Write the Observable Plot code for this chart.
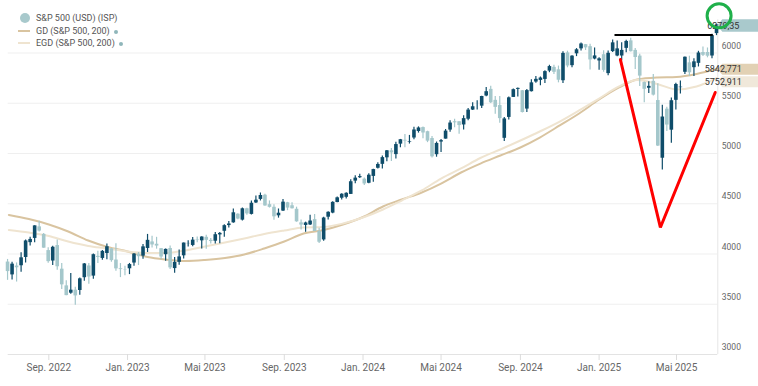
<!DOCTYPE html>
<html><head><meta charset="utf-8">
<script src="https://cdn.jsdelivr.net/npm/d3@7"></script>
<script src="https://cdn.jsdelivr.net/npm/@observablehq/plot@0.6"></script>
<style>
body{margin:0;background:#fff;font-family:Roboto,sans-serif;}
#wrap{position:relative;width:758px;height:386px;overflow:hidden;}
#legend{position:absolute;left:0;top:0;width:200px;height:50px;font-size:9px;color:#555;}
#legend .it{position:absolute;left:36px;height:12px;line-height:12px;white-space:nowrap;}
#legend .sw{position:absolute;}
#legend .dot{display:inline-block;width:4px;height:4px;border-radius:50%;background:#8fb6ba;margin-left:4px;vertical-align:middle;}
</style></head><body>
<div id="wrap"><div id="chart"></div>
<div id="legend">
  <div class="sw" style="left:20px;top:13px;width:10px;height:10px;border-radius:50%;background:#a8c9cc"></div>
  <div class="it" style="top:12px">S&amp;P 500 (USD) (ISP)</div>
  <div class="sw" style="left:18px;top:30px;width:12px;height:2px;background:#d9c4a0"></div>
  <div class="it" style="top:25px">GD (S&amp;P 500, 200)<span class="dot"></span></div>
  <div class="sw" style="left:18px;top:42px;width:12px;height:2px;background:#efe4d0"></div>
  <div class="it" style="top:37px">EGD (S&amp;P 500, 200)<span class="dot"></span></div>
</div></div>
<script>
// ---- weekly S&P 500 candles (week start, open, high, low, close) ----
const weekStart = ["2022-06-27","2022-07-04","2022-07-11","2022-07-18","2022-07-25","2022-08-01","2022-08-08","2022-08-15","2022-08-22","2022-08-29","2022-09-05","2022-09-12","2022-09-19","2022-09-26","2022-10-03","2022-10-10","2022-10-17","2022-10-24","2022-10-31","2022-11-07","2022-11-14","2022-11-21","2022-11-28","2022-12-05","2022-12-12","2022-12-19","2022-12-26",
"2023-01-02","2023-01-09","2023-01-16","2023-01-23","2023-01-30","2023-02-06","2023-02-13","2023-02-20","2023-02-27","2023-03-06","2023-03-13","2023-03-20","2023-03-27","2023-04-03","2023-04-10","2023-04-17","2023-04-24","2023-05-01","2023-05-08","2023-05-15","2023-05-22","2023-05-29","2023-06-05","2023-06-12","2023-06-19","2023-06-26","2023-07-03","2023-07-10","2023-07-17","2023-07-24","2023-07-31","2023-08-07","2023-08-14","2023-08-21","2023-08-28","2023-09-04","2023-09-11","2023-09-18","2023-09-25","2023-10-02","2023-10-09","2023-10-16","2023-10-23","2023-10-30","2023-11-06","2023-11-13","2023-11-20","2023-11-27","2023-12-04","2023-12-11","2023-12-18","2023-12-25",
"2024-01-01","2024-01-08","2024-01-15","2024-01-22","2024-01-29","2024-02-05","2024-02-12","2024-02-19","2024-02-26","2024-03-04","2024-03-11","2024-03-18","2024-03-25","2024-04-01","2024-04-08","2024-04-15","2024-04-22","2024-04-29","2024-05-06","2024-05-13","2024-05-20","2024-05-27","2024-06-03","2024-06-10","2024-06-17","2024-06-24","2024-07-01","2024-07-08","2024-07-15","2024-07-22","2024-07-29","2024-08-05","2024-08-12","2024-08-19","2024-08-26","2024-09-02","2024-09-09","2024-09-16","2024-09-23","2024-09-30","2024-10-07","2024-10-14","2024-10-21","2024-10-28","2024-11-04","2024-11-11","2024-11-18","2024-11-25","2024-12-02","2024-12-09","2024-12-16","2024-12-23","2024-12-30",
"2025-01-06","2025-01-13","2025-01-20","2025-01-27","2025-02-03","2025-02-10","2025-02-17","2025-02-24","2025-03-03","2025-03-10","2025-03-17","2025-03-24","2025-03-31","2025-04-07","2025-04-14","2025-04-21","2025-04-28","2025-05-05","2025-05-12","2025-05-19","2025-05-26","2025-06-02","2025-06-09","2025-06-16","2025-06-23","2025-06-30"];
const open = [3920,3792,3880,3883,3965,4113,4155,4270,4195,4034,3930,4084,3849,3683,3610,3640,3637,3764,3881,3780,3977,3956,4005,4052,3940,3853,3843,
3853,3910,3999,3979,4055,4120,4097,4053,3993,4055,3855,3917,3982,4103,4085,4139,4131,4166,4136,4127,4190,4226,4283,4310,4396,4337,4450,4394,4508,4543,4585,4491,4465,4380,4427,4510,4480,4445,4310,4284,4289,4342,4225,4140,4366,4407,4512,4555,4564,4593,4725,4759,
4745,4704,4772,4853,4892,4957,5027,4989,5093,5131,5111,5154,5219,5258,5217,5149,4988,5114,5143,5233,5316,5316,5284,5341,5432,5460,5471,5572,5638,5529,5477,5151,5359,5558,5638,5624,5442,5615,5711,5727,5737,5820,5857,5833,5724,6001,5874,5992,6041,6083,6063,5940,5921,
5983,5795,6014,5970,5970,6046,6121,6026,5969,5706,5649,5718,5527,4953,5441,5232,5529,5655,5808,5902,5854,5897,6005,6005,5970,6193];
const high = [3946,3918,3911,4012,4140,4167,4281,4325,4203,4062,4077,4140,3906,3733,3807,3669,3762,3905,3905,4001,4028,4034,4100,4052,4101,3905,3878,
3906,4004,4015,4095,4195,4176,4166,4054,4049,4079,3964,4040,4110,4133,4164,4170,4171,4187,4154,4213,4213,4291,4323,4448,4401,4458,4456,4528,4578,4607,4595,4528,4490,4448,4542,4514,4511,4466,4338,4317,4386,4393,4256,4366,4420,4520,4568,4599,4609,4738,4779,4793,
4755,4799,4843,4907,4976,5031,5049,5111,5140,5190,5180,5262,5265,5264,5222,5168,5114,5139,5239,5325,5342,5316,5375,5447,5506,5524,5570,5656,5670,5566,5566,5358,5563,5643,5652,5626,5636,5733,5767,5760,5823,5878,5878,5870,6012,6018,5972,6044,6099,6085,6086,6050,5953,
6022,6020,6129,6120,6101,6127,6147,6044,5987,5712,5715,5786,5695,5481,5459,5552,5700,5721,5959,5968,5943,6017,6060,6050,6187,6284];
const low = [3738,3742,3721,3819,3911,4079,4112,4218,4057,3907,3886,3838,3648,3584,3600,3491,3590,3730,3699,3750,3906,3938,3942,3918,3828,3765,3783,
3795,3877,3885,3949,4015,4060,4048,3944,3928,3847,3808,3888,3951,4069,4072,4113,4049,4048,4099,4099,4103,4166,4258,4305,4341,4328,4385,4387,4503,4528,4474,4457,4335,4357,4423,4431,4448,4316,4239,4216,4284,4223,4104,4128,4339,4401,4511,4537,4547,4591,4699,4752,
4682,4699,4714,4845,4846,4918,4920,4946,5057,5057,5094,5138,5203,5146,5108,4954,4963,5011,5143,5211,5257,5191,5234,5327,5428,5433,5447,5565,5497,5391,5302,5120,5334,5556,5561,5402,5407,5613,5699,5674,5696,5804,5786,5703,5696,5853,5853,5964,6020,6025,5832,5932,5829,
5809,5773,6004,5962,5923,6003,6009,5837,5667,5505,5597,5572,5069,4835,5220,5101,5434,5593,5786,5768,5767,5861,5964,5952,5944,6173];
const close = [3825,3899,3863,3962,4130,4145,4280,4228,4058,3924,4067,3873,3693,3586,3640,3583,3753,3901,3771,3993,3965,4026,4072,3934,3852,3845,3840,
3895,3999,3973,4071,4136,4090,4079,3970,4046,3862,3917,3971,4109,4105,4138,4134,4169,4136,4124,4192,4205,4282,4299,4410,4348,4450,4399,4505,4536,4582,4478,4464,4370,4406,4516,4457,4450,4320,4288,4309,4328,4224,4117,4358,4415,4514,4559,4595,4604,4719,4755,4770,
4697,4784,4840,4891,4959,5027,5006,5089,5137,5124,5117,5234,5254,5204,5123,4967,5100,5128,5223,5303,5305,5278,5347,5432,5465,5460,5567,5615,5505,5459,5347,5344,5554,5635,5648,5408,5626,5703,5738,5751,5815,5865,5808,5729,5996,5871,5969,6032,6090,6051,5931,5971,5942,
5827,5997,6101,6041,6026,6115,6013,5955,5770,5639,5668,5581,5074,5363,5283,5525,5687,5660,5958,5803,5912,6000,5977,5968,6173,6279.35];

// ---- moving averages ----
const maDates = ["2022-07-01","2022-08-01","2022-09-01","2022-10-01","2022-11-01","2022-12-01","2023-01-01","2023-02-01","2023-03-01","2023-04-01","2023-05-01","2023-06-01","2023-07-01","2023-08-01","2023-09-01","2023-10-01","2023-11-01","2023-12-01","2024-01-01","2024-02-01","2024-03-01","2024-04-01","2024-05-01","2024-06-01","2024-07-01","2024-08-01","2024-09-01","2024-10-01","2024-11-01","2024-12-01","2025-01-01","2025-02-01","2025-03-01","2025-04-01","2025-05-01","2025-06-01","2025-07-03"];
const gdValues = [4388,4348,4294,4224,4134,4070,4025,3970,3945,3930,3940,3960,3995,4055,4124,4204,4239,4294,4368,4473,4542,4612,4701,4811,4900,4980,5060,5159,5279,5398,5537,5657,5736,5756,5761,5791,5842.771];
const egdValues = [4239,4214,4179,4124,4080,4055,4025,4010,4010,4035,4075,4114,4154,4199,4234,4264,4269,4303,4363,4443,4532,4632,4751,4851,4955,5040,5129,5219,5318,5428,5547,5667,5731,5692,5637,5667,5752.911];

// ---- axes ----
const tickDates = ["2022-09-01","2023-01-01","2023-05-01","2023-09-01","2024-01-01","2024-05-01","2024-09-01","2025-01-01","2025-05-01"];
const tickLabels = ["Sep. 2022","Jan. 2023","Mai 2023","Sep. 2023","Jan. 2024","Mai 2024","Sep. 2024","Jan. 2025","Mai 2025"];
const yTicks = [3000,3500,4000,4500,5000,5500,6000];

// ---- price tags ----
const tagValues = [6279.35, 5842.771, 5752.911];
const tagTexts = ["6279,35","5842,771","5752,911"];

// ---- hand-drawn annotations ----
const vDates = ["2025-02-03","2025-04-06","2025-06-30"];
const vValues = [5935, 4264, 5607];
const hDates = ["2025-01-26","2025-06-25"];
const hValues = [6179, 6179];
const circleDate = "2025-07-06";
const circleValue = 6370;

const parse = d3.utcParse("%Y-%m-%d");
const UP = "#0f4d6a", DOWN = "#a4c7cb";
const candles = weekStart.map((d,i)=>({date:d3.utcDay.offset(parse(d),2),open:open[i],high:high[i],low:low[i],close:close[i],col:close[i]>=open[i]?UP:DOWN}));
const gd = maDates.map((d,i)=>({date:parse(d),value:gdValues[i]}));
const egd = maDates.map((d,i)=>({date:parse(d),value:egdValues[i]}));
const labelMap = new Map(tickDates.map((d,i)=>[+parse(d),tickLabels[i]]));
const vData = vDates.map((d,i)=>({date:parse(d),value:vValues[i]}));
const hData = hDates.map((d,i)=>({date:parse(d),value:hValues[i]}));
const tagFills = ["#a9c9cc","#e2d1b4","#f0e8da"];
const xStart = parse("2022-06-30"), xEnd = parse("2025-07-04");

function priceTags(index, scales, values, dim) {
  const g = d3.create("svg:g").attr("font-family","Roboto, sans-serif").attr("font-size",9);
  const x0 = dim.width - dim.marginRight;
  let prevBottom = -Infinity;
  tagValues.forEach((v,i)=>{
    const h = i===0 ? 12.5 : 11;
    let cy = scales.y(v) + 1;
    cy = Math.max(cy, prevBottom + h/2 + 1.5);
    prevBottom = cy + h/2;
    g.append("path")
      .attr("d",`M${x0},${cy}L${x0+5},${cy-h/2}L${dim.width},${cy-h/2}L${dim.width},${cy+h/2}L${x0+5},${cy+h/2}Z`)
      .attr("fill",tagFills[i]);
    g.append("text").attr("x",x0+6).attr("y",cy).attr("dy","0.35em").attr("fill","#333").text(tagTexts[i]);
  });
  return g.node();
}

const chart = Plot.plot({
  width:758, height:386,
  marginLeft:7.7, marginRight:40.7, marginTop:0, marginBottom:32,
  x:{type:"utc", domain:[xStart,xEnd], range:[7.7,717.3]},
  y:{domain:[3000,6000], range:[354,52.5]},
  color:{type:"identity"},
  style:{fontFamily:"Roboto, sans-serif", background:"white"},
  marks:[
    Plot.ruleY(yTicks.filter(d=>d>3000), {stroke:"#efefef"}),
    Plot.ruleY([3000], {stroke:"#e3e3e3"}),
    Plot.ruleX([xEnd], {y1:3000, y2:6330, stroke:"#e6e6e6"}),
    Plot.axisX({ticks:tickDates.map(parse), tickFormat:d=>labelMap.get(+d), tickSize:6, tickPadding:3, stroke:"#dcdcdc", fill:"#666", fontSize:10}),
    Plot.axisY({anchor:"right", ticks:yTicks, tickSize:0, tickPadding:4, dy:-7, fontSize:8.5, fill:"#666", tickFormat:d=>String(d)}),
    Plot.line(gd, {x:"date", y:"value", stroke:"#d9c4a0", strokeWidth:2, curve:"monotone-x"}),
    Plot.line(egd, {x:"date", y:"value", stroke:"#efe4d0", strokeWidth:2, curve:"monotone-x"}),
    Plot.ruleX(candles, {x:"date", y1:"low", y2:"high", stroke:"col", strokeWidth:1.2}),
    Plot.ruleX(candles, {x:"date", y1:"open", y2:"close", stroke:"col", strokeWidth:3.6}),
    Plot.line(vData, {x:"date", y:"value", stroke:"#ff0000", strokeWidth:3, strokeLinejoin:"miter"}),
    Plot.line(hData, {x:"date", y:"value", stroke:"#000", strokeWidth:2}),
    priceTags,
    Plot.dot([{date:parse(circleDate), value:circleValue}], {x:"date", y:"value", r:12, stroke:"#1fb04a", strokeWidth:3, fill:"none"})
  ]
});
document.getElementById("chart").appendChild(chart);
</script>
</body></html>
